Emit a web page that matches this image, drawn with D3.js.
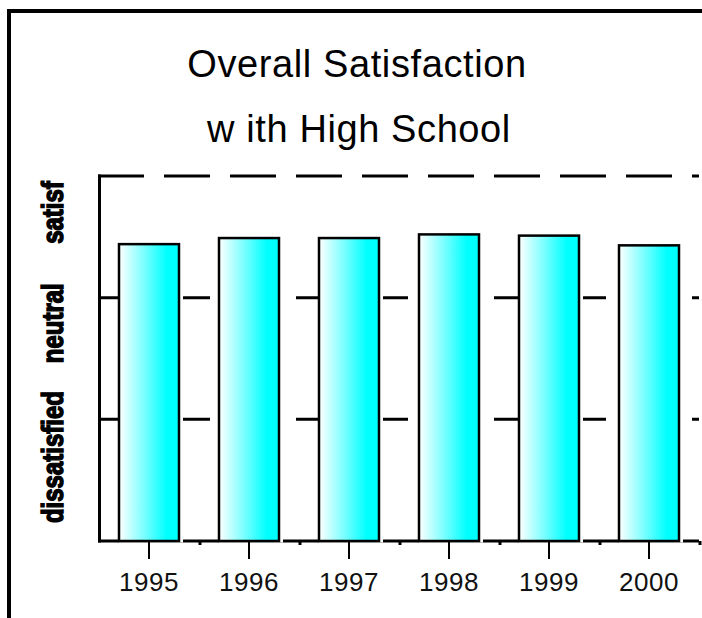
<!DOCTYPE html>
<html>
<head>
<meta charset="utf-8">
<script src="https://cdn.jsdelivr.net/npm/d3@7/dist/d3.min.js"></script>
<style>
  html, body { margin: 0; padding: 0; background: #fff; }
  svg { display: block; }
</style>
</head>
<body>
<svg id="chart" width="702" height="618"></svg>
<script>
// Survey years and mean satisfaction score (0 = bottom, 3 = top of scale)
const years = ["1995", "1996", "1997", "1998", "1999", "2000"];
const scores = [2.44, 2.49, 2.49, 2.52, 2.51, 2.43];

// Rating scale: gridline levels and the rotated category labels
const gridLevels = [1, 2, 3];
const ratingLabels = ["dissatisfied", "neutral", "satisf"];
const ratingLabelAt = [0.69, 1.79, 2.70];

const titleLines = ["Overall Satisfaction", "w ith High School"];

const svg = d3.select("#chart");
const W = 702, H = 618;

// Outer frame (top and left edges)
svg.append("line").attr("x1", 7).attr("x2", W).attr("y1", 11).attr("y2", 11)
  .attr("stroke", "#000").attr("stroke-width", 4);
svg.append("line").attr("x1", 9).attr("x2", 9).attr("y1", 9).attr("y2", H)
  .attr("stroke", "#000").attr("stroke-width", 4);

// Title
svg.append("text").attr("x", 357).attr("y", 77).attr("text-anchor", "middle")
  .attr("font-family", "'Liberation Sans', Arial, sans-serif").attr("font-size", 38)
  .attr("letter-spacing", 0.6).attr("fill", "#000").text(titleLines[0]);
svg.append("text").attr("x", 359).attr("y", 142).attr("text-anchor", "middle")
  .attr("font-family", "'Liberation Sans', Arial, sans-serif").attr("font-size", 38)
  .attr("letter-spacing", 0.6).attr("fill", "#000").text(titleLines[1]);

// Scales
const x = d3.scaleBand().domain(years).range([99, 699])
  .paddingInner(0.4).paddingOuter(0.2);
const y = d3.scaleLinear().domain([0, 3]).range([541, 176]);

// Dashed gridlines
svg.append("g").selectAll("line").data(gridLevels).join("line")
  .attr("x1", 98).attr("x2", 699)
  .attr("y1", d => y(d)).attr("y2", d => y(d))
  .attr("stroke", "#000").attr("stroke-width", 3)
  .attr("stroke-dasharray", "46 20");

// Axis lines
svg.append("line").attr("x1", 98).attr("x2", 699).attr("y1", y(0)).attr("y2", y(0))
  .attr("stroke", "#000").attr("stroke-width", 3);
svg.append("line").attr("x1", 99.5).attr("x2", 99.5).attr("y1", y(3) - 1.5).attr("y2", y(0) + 1.5)
  .attr("stroke", "#000").attr("stroke-width", 3);

// Gradient fill for bars
const defs = svg.append("defs");
const grad = defs.append("linearGradient").attr("id", "barFill")
  .attr("x1", "0%").attr("x2", "100%").attr("y1", "0%").attr("y2", "0%");
grad.append("stop").attr("offset", "0%").attr("stop-color", "#ffffff");
grad.append("stop").attr("offset", "80%").attr("stop-color", "#00ffff");
grad.append("stop").attr("offset", "100%").attr("stop-color", "#00ffff");

const data = years.map((yr, i) => ({ yr, v: scores[i] }));

// White margin on the right side of each bar
svg.append("g").selectAll("rect").data(data).join("rect")
  .attr("x", d => x(d.yr))
  .attr("y", d => y(d.v))
  .attr("width", x.bandwidth() + 4)
  .attr("height", d => y(0) + 1.5 - y(d.v))
  .attr("fill", "#fff");

// Bars
svg.append("g").selectAll("rect").data(data).join("rect")
  .attr("x", d => x(d.yr))
  .attr("y", d => y(d.v))
  .attr("width", x.bandwidth())
  .attr("height", d => y(0) - y(d.v))
  .attr("fill", "url(#barFill)")
  .attr("stroke", "#000").attr("stroke-width", 2.5);

// Bottom axis: major ticks with year labels
const xAxis = svg.append("g").attr("transform", `translate(0,${y(0)})`)
  .call(d3.axisBottom(x).tickSize(18).tickPadding(14));
xAxis.select(".domain").remove();
xAxis.selectAll(".tick line").attr("stroke", "#000").attr("stroke-width", 2);
xAxis.selectAll(".tick text")
  .attr("font-family", "'Liberation Sans', Arial, sans-serif")
  .attr("font-size", 26).attr("fill", "#111").attr("letter-spacing", 0.5);

// Minor ticks between categories
svg.append("g").selectAll("line").data(years).join("line")
  .attr("x1", d => x(d) + x.step() * 0.8 + 1)
  .attr("x2", d => x(d) + x.step() * 0.8 + 1)
  .attr("y1", y(0)).attr("y2", y(0) + 4)
  .attr("stroke", "#000").attr("stroke-width", 3);

// Rotated rating labels
svg.append("g").selectAll("text").data(ratingLabels).join("text")
  .attr("transform", (d, i) => `translate(63,${y(ratingLabelAt[i])}) rotate(-90) scale(1,1.2)`)
  .attr("text-anchor", "middle")
  .attr("font-family", "'Liberation Sans', Arial, sans-serif")
  .attr("font-weight", "bold").attr("font-size", 24)
  .attr("fill", "#000").attr("stroke", "#000").attr("stroke-width", 1.2)
  .text(d => d);
</script>
</body>
</html>
